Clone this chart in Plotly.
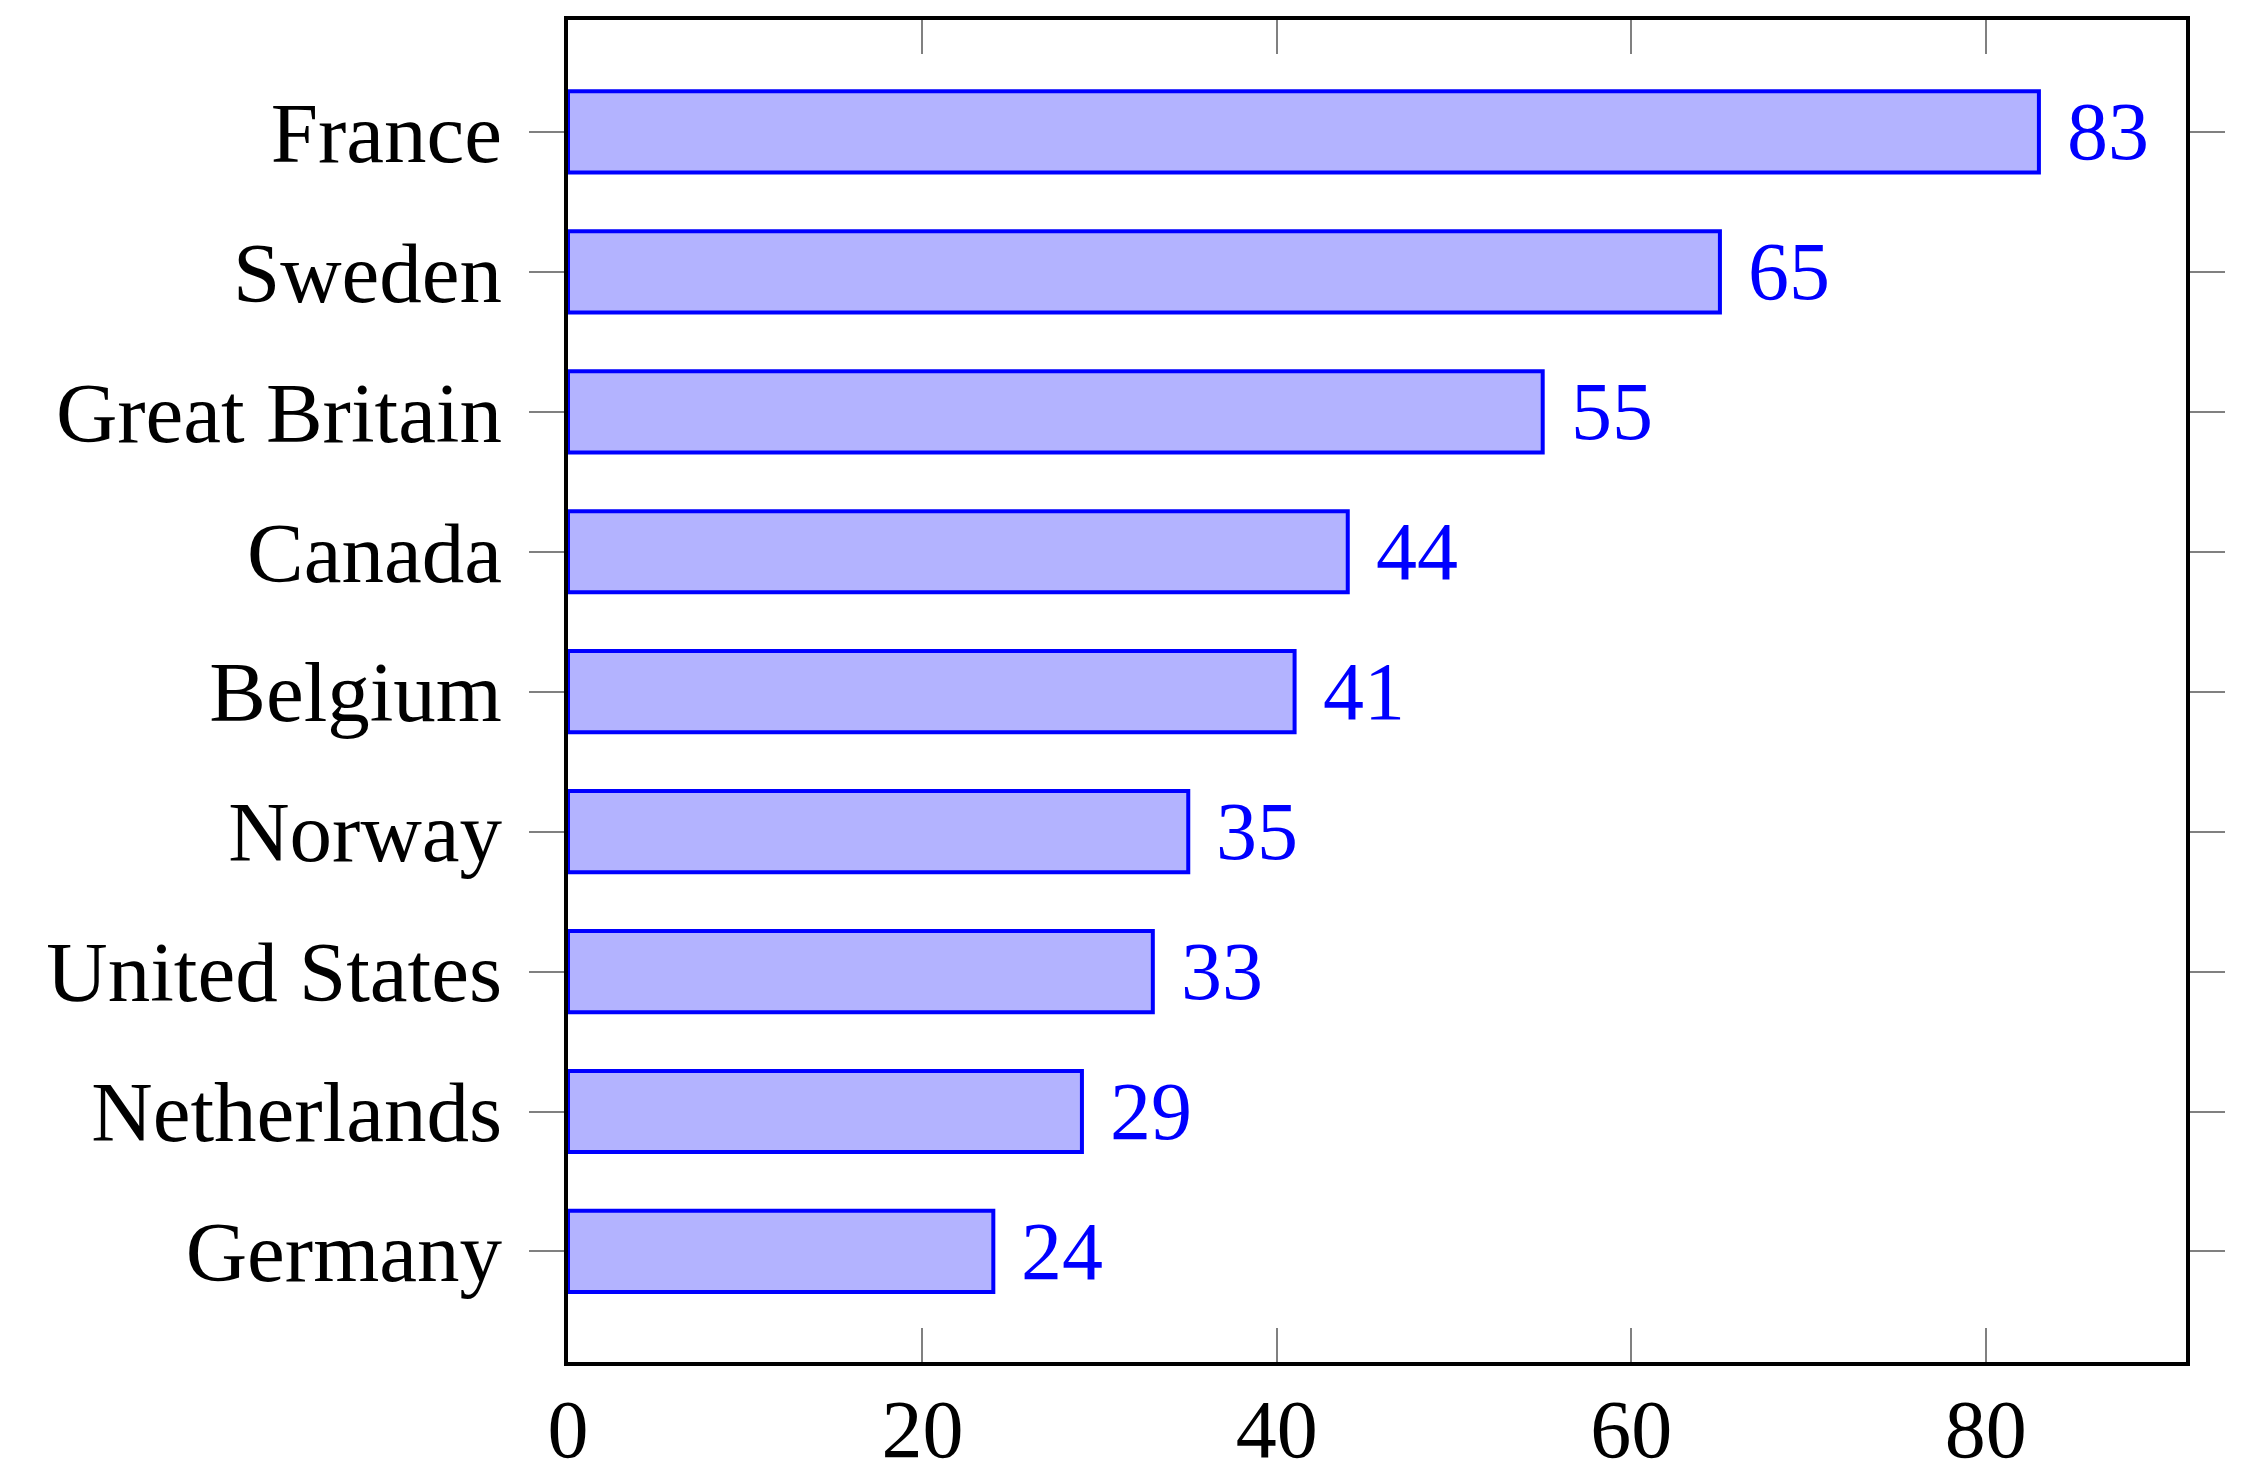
import plotly.graph_objects as go

countries = ["Germany", "Netherlands", "United States", "Norway", "Belgium",
             "Canada", "Great Britain", "Sweden", "France"]
values = [24, 29, 33, 35, 41, 44, 55, 65, 83]
x_ticks = [0, 20, 40, 60, 80]

FONT = "Liberation Serif"
FS = 82

fig = go.Figure()
fig.add_trace(go.Bar(
    y=countries, x=values, orientation="h",
    width=0.58,
    marker=dict(color="#B3B3FF", line=dict(color="#0000FF", width=4)),
    hoverinfo="skip",
))

for c, v in zip(countries, values):
    fig.add_annotation(x=v, y=c, text=str(v), showarrow=False,
                       xanchor="left", yanchor="middle", xshift=26,
                       font=dict(family=FONT, size=FS, color="#0000FF"))

fig.update_layout(
    width=2243, height=1468,
    margin=dict(l=560, r=65, t=12, b=114, pad=0),
    paper_bgcolor="white", plot_bgcolor="white",
    showlegend=False,
    font=dict(family=FONT, size=FS, color="black"),
)
fig.update_xaxes(
    range=[0, 91.3], tickvals=x_ticks, ticktext=[str(t) for t in x_ticks],
    showgrid=False, zeroline=False, automargin=False,
    showline=True, linecolor="black", linewidth=4, mirror="ticks",
    ticks="inside", ticklen=34, tickwidth=2, tickcolor="#808080",
    ticklabelstandoff=-7,
)
fig.update_yaxes(
    type="category", categoryorder="array", categoryarray=countries,
    range=[-0.79, 8.8], automargin=False,
    showgrid=False, zeroline=False,
    showline=True, linecolor="black", linewidth=4, mirror="ticks",
    ticks="outside", ticklen=35, tickwidth=2, tickcolor="#808080",
    ticklabelstandoff=10, tickfont=dict(size=85),
)

fig.write_html("out.html")
